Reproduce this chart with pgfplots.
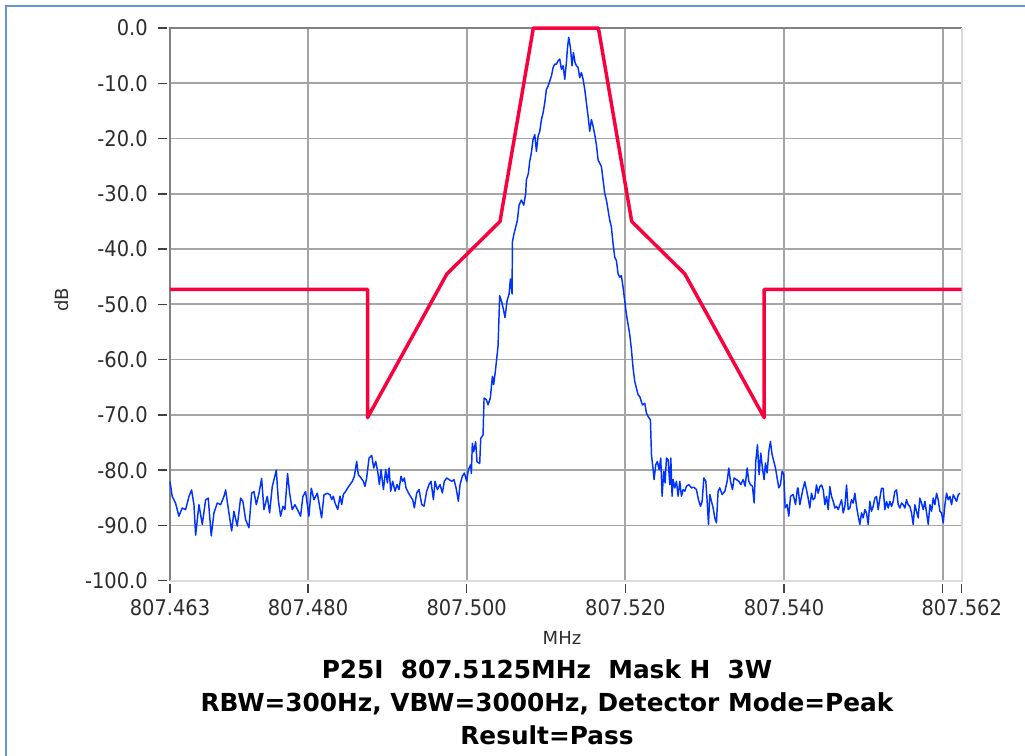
\documentclass[border=0pt]{standalone}
\usepackage{fontspec}
\setmainfont{DejaVu Sans Condensed}
\newfontfamily\widefont{DejaVu Sans}
\usepackage{pgfplots}
\pgfplotsset{compat=1.18}
\definecolor{maskred}{RGB}{250,0,60}
\definecolor{traceblue}{RGB}{0,51,255}
\definecolor{gridgray}{RGB}{165,165,165}
\definecolor{frameblue}{RGB}{100,150,215}
\definecolor{axdark}{RGB}{130,130,130}
\definecolor{axlight}{RGB}{218,218,218}
\definecolor{ticktext}{RGB}{45,45,45}
\begin{document}
\begin{tikzpicture}
\begin{scope}[x=0.75pt,y=-0.75pt,xshift=-127.5pt,yshift=435.525pt]
\useasboundingbox (0,0) rectangle (1025,756);
\draw[frameblue, line width=1.5pt] (6,756) -- (6,6) -- (1025,6);
\end{scope}
\begin{axis}[
  scale only axis, width=593.8pt, height=414.5pt,
  xmin=-37.4, xmax=62.4, ymin=-100, ymax=0,
  axis line style={draw=none},
  grid=major, major grid style={gridgray, line width=1.3pt},
  xtick={-20,0,20,40,60}, xticklabels={807.480,807.500,807.520,807.540,{}},
  extra x ticks={-37.4,62.4}, extra x tick labels={807.463,807.562},
  extra x tick style={grid=none},
  ytick={-90,-80,-70,-60,-50,-40,-30,-20,-10,0},
  yticklabels={-90.0,-80.0,-70.0,-60.0,-50.0,-40.0,-30.0,-20.0,-10.0,0.0},
  extra y ticks={-100}, extra y tick labels={-100.0},
  extra y tick style={grid=none},
  xtick pos=bottom, ytick pos=left,
  tick align=outside, major tick length=6.75pt,
  xtick style={black!75, line width=1.1pt, yshift=-2.25pt},
  ytick style={black!75, line width=1.1pt, xshift=-2.25pt},
  ticklabel style={font=\fontsize{16.2}{19}\selectfont, text=ticktext, inner sep=0pt},
  xticklabel shift=7.2pt, yticklabel shift=9.75pt,
  clip=false,
]
\draw[axdark, line width=1.6pt] (rel axis cs:0,0) -- (rel axis cs:0,1) -- (rel axis cs:1,1);
\draw[axlight, line width=1.6pt] (rel axis cs:0,0) -- (rel axis cs:1,0) -- (rel axis cs:1,1);
\addplot[traceblue, line width=1.1pt, line join=round] coordinates {
(-37.4,-82.08) (-37.12,-84.76) (-36.70,-85.95) (-36.28,-88.33) (-35.86,-86.85) (-35.43,-87.14) (-35.01,-84.76) (-34.68,-83.57) (-34.38,-86.25) (-34.17,-91.79) (-33.75,-86.25) (-33.33,-89.82) (-32.91,-85.36) (-32.58,-85.06) (-32.20,-91.90) (-31.86,-87.74) (-31.44,-85.95) (-31.02,-86.25) (-30.60,-84.76) (-30.39,-83.57) (-29.97,-87.74) (-29.63,-91.01) (-29.34,-87.44) (-28.92,-90.12) (-28.50,-85.06) (-28.21,-85.65) (-27.87,-88.93) (-27.45,-90.42) (-27.11,-84.17) (-26.82,-83.87) (-26.52,-86.25) (-26.18,-84.17) (-25.85,-81.49) (-25.56,-87.14) (-25.14,-84.76) (-24.84,-87.74) (-24.51,-82.98) (-24.25,-81.49) (-24.00,-80.00) (-23.75,-85.36) (-23.46,-88.33) (-23.16,-86.55) (-22.91,-87.14) (-22.58,-80.60) (-22.32,-84.17) (-21.99,-87.14) (-21.65,-86.25) (-21.23,-87.44) (-20.94,-88.33) (-20.65,-84.76) (-20.31,-83.87) (-19.89,-88.33) (-19.59,-83.27) (-19.25,-85.36) (-18.83,-84.17) (-18.54,-86.55) (-18.29,-88.63) (-17.99,-84.46) (-17.57,-84.17) (-17.23,-84.46)
(-17.02,-85.32) (-16.81,-84.71) (-16.60,-85.92) (-16.26,-87.12) (-15.97,-84.71) (-15.76,-86.22) (-15.55,-84.41) (-15.25,-83.81) (-15.00,-83.21) (-14.71,-82.61) (-14.41,-82.01) (-14.16,-81.11) (-13.87,-78.41) (-13.66,-80.81) (-13.32,-81.41) (-13.03,-82.01) (-12.82,-82.91) (-12.61,-81.41) (-12.31,-77.81) (-11.97,-77.33) (-11.72,-79.61) (-11.47,-78.41) (-11.22,-80.21) (-11.01,-82.61) (-10.80,-79.91) (-10.50,-83.51) (-10.21,-79.91) (-10.00,-82.31) (-9.79,-79.61) (-9.58,-83.81) (-9.33,-82.01) (-9.03,-83.81) (-8.78,-82.61) (-8.53,-83.51) (-8.28,-81.11) (-8.07,-82.01) (-7.86,-81.41) (-7.65,-83.21) (-7.35,-84.11) (-7.10,-84.71) (-6.81,-85.32) (-6.60,-86.82) (-6.30,-84.11) (-6.01,-83.51) (-5.67,-86.22) (-5.38,-86.52) (-5.04,-83.81) (-4.75,-82.61) (-4.50,-82.01) (-4.20,-85.32) (-3.99,-82.01) (-3.70,-83.51) (-3.36,-82.61) (-3.07,-84.11) (-2.82,-82.01) (-2.52,-81.41) (-2.23,-81.71) (-1.89,-82.01) (-1.60,-81.71) (-1.34,-83.21) (-1.05,-85.62) (-0.84,-82.61) (-0.55,-81.11) (-0.29,-80.51) (0.00,-82.01) (0.21,-79.91) (0.50,-79.01)
(0.59,-80.61) (0.71,-75.15) (0.88,-76.67) (1.13,-74.85) (1.30,-78.49) (1.64,-78.79) (1.77,-74.24) (2.06,-73.63) (2.19,-66.95) (2.48,-67.26) (2.69,-68.17) (2.98,-66.95) (3.24,-63.01) (3.40,-64.52) (3.66,-61.49) (3.95,-57.54) (4.16,-48.43) (4.37,-49.34) (4.58,-50.56) (4.83,-52.38) (5.09,-49.34) (5.34,-48.13) (5.51,-45.40) (5.72,-48.13) (5.76,-38.72) (5.97,-37.20) (6.18,-35.99) (6.39,-34.77) (6.60,-32.04) (6.89,-31.13) (7.19,-32.04) (7.44,-29.92) (7.52,-27.49) (7.78,-26.27) (7.94,-24.15) (8.15,-22.63) (8.36,-20.20) (8.58,-19.29) (8.79,-22.33) (9.00,-19.59) (9.21,-18.68) (9.42,-16.56) (9.63,-15.34) (9.84,-13.52) (10.05,-11.09) (10.26,-10.49) (10.47,-9.57) (10.68,-8.66) (10.89,-7.15) (11.10,-6.54) (11.31,-6.54) (11.52,-5.93) (11.73,-5.63) (11.94,-7.45) (12.15,-6.84) (12.36,-9.27) (12.57,-6.24) (12.69,-3.81) (12.86,-1.68) (13.07,-3.50) (13.28,-6.84) (13.45,-4.41) (13.66,-6.24) (13.83,-6.84) (14.04,-7.15) (14.25,-8.97) (14.46,-8.06) (14.67,-9.27) (14.88,-11.09) (15.09,-13.52) (15.30,-15.95) (15.51,-18.68) (15.72,-16.56) (15.93,-17.77) (16.14,-19.29) (16.35,-21.11) (16.56,-23.84) (16.77,-24.45) (16.98,-25.06) (17.19,-27.49) (17.40,-29.92) (17.61,-31.13) (17.82,-32.95) (18.03,-34.77) (18.24,-35.99) (18.45,-39.02) (18.66,-41.45) (18.87,-42.06) (19.08,-44.49) (19.29,-45.09) (19.50,-44.79) (19.71,-46.92) (19.92,-49.34) (20.13,-51.77) (20.34,-53.59) (20.55,-55.42) (20.76,-58.15) (20.97,-61.49) (21.18,-63.92) (21.39,-65.13) (21.60,-66.34)
(21.82,-66.70) (22.15,-68.20) (22.45,-67.90) (22.66,-69.70) (22.87,-70.30) (23.16,-70.90) (23.29,-77.21) (23.50,-79.91) (23.62,-81.71) (23.83,-79.01) (24.04,-78.41) (24.25,-79.91) (24.46,-77.81) (24.63,-84.71) (24.84,-80.21) (25.01,-82.31) (25.18,-77.81) (25.39,-78.11) (25.60,-82.61) (25.73,-77.81) (25.89,-84.71) (26.02,-81.71) (26.23,-83.21) (26.44,-82.01) (26.65,-84.71) (26.86,-82.01) (27.07,-84.71) (27.28,-83.51) (27.49,-83.81) (27.70,-82.91) (28.00,-82.61) (28.33,-83.21) (28.63,-83.09) (28.96,-83.51) (29.21,-85.32) (29.47,-86.52) (29.68,-85.62) (29.89,-81.41) (30.14,-82.01) (30.31,-85.62) (30.48,-89.82) (30.64,-84.41) (30.85,-85.62) (31.06,-86.82) (31.27,-88.62) (31.48,-89.52) (31.69,-83.81) (31.90,-83.21) (32.20,-84.41) (32.54,-83.81) (32.83,-82.01) (33.04,-79.61) (33.25,-82.01) (33.50,-83.51) (33.71,-81.41) (34.01,-81.71) (34.30,-82.01) (34.55,-82.61) (34.85,-81.71) (35.10,-82.91) (35.35,-79.61) (35.56,-82.01) (35.77,-82.61) (36.02,-82.91) (36.23,-85.92) (36.44,-78.41) (36.65,-75.41) (36.86,-80.81) (37.07,-76.91) (37.28,-79.61) (37.49,-81.71) (37.66,-78.71) (37.87,-80.51) (38.08,-76.61) (38.29,-74.80) (38.50,-77.21) (38.71,-78.41) (38.92,-79.61) (39.13,-81.41) (39.34,-83.21) (39.55,-82.61) (39.76,-80.21) (39.97,-80.81) (40.14,-86.82) (40.39,-86.22) (40.60,-88.32) (40.82,-84.71) (41.15,-84.41) (41.45,-86.22) (41.70,-83.21)
(41.78,-83.27) (41.99,-86.25) (42.20,-84.76) (42.41,-83.27) (42.62,-82.08) (42.83,-83.57) (43.04,-85.06) (43.25,-86.85) (43.46,-84.17) (43.67,-85.36) (43.88,-85.06) (44.09,-82.68) (44.30,-84.17) (44.51,-82.98) (44.73,-82.68) (44.94,-83.57) (45.15,-86.25) (45.36,-84.76) (45.57,-87.14) (45.78,-82.98) (45.99,-84.76) (46.20,-85.65) (46.41,-86.85) (46.62,-86.55) (46.83,-87.14) (47.04,-86.25) (47.25,-85.36) (47.46,-87.74) (47.67,-86.55) (47.88,-82.68) (48.09,-87.14) (48.30,-86.85) (48.51,-85.36) (48.72,-85.95) (48.93,-84.17) (49.14,-86.55) (49.35,-88.33) (49.56,-89.82) (49.77,-87.74) (49.98,-88.63) (50.19,-87.14) (50.40,-87.74) (50.61,-89.82) (50.82,-85.65) (51.03,-87.44) (51.24,-86.55) (51.45,-85.06) (51.66,-84.76) (51.87,-87.14) (52.08,-85.06) (52.29,-83.27) (52.50,-83.27) (52.71,-87.14) (52.92,-85.65) (53.13,-86.85) (53.34,-85.65) (53.55,-86.55) (53.76,-85.65) (53.97,-83.87) (54.18,-83.57) (54.39,-86.25) (54.60,-86.85) (54.81,-85.95) (55.02,-86.25) (55.23,-86.85) (55.44,-85.36) (55.65,-86.25) (55.86,-86.55) (56.07,-87.74) (56.28,-89.82) (56.49,-86.25) (56.70,-87.44) (56.91,-88.63) (57.12,-85.06) (57.33,-85.95) (57.55,-87.14) (57.76,-85.65) (57.97,-87.74) (58.18,-89.82) (58.39,-86.25) (58.60,-87.44) (58.81,-85.06) (59.02,-86.25) (59.23,-84.17) (59.44,-85.36) (59.65,-87.44) (59.86,-87.74) (60.07,-89.52) (60.28,-86.25) (60.49,-84.17) (60.70,-85.36) (60.91,-84.76) (61.12,-86.25) (61.33,-84.46) (61.54,-85.06) (61.75,-85.65) (61.96,-84.46) (62.17,-84.17)
};
\addplot[maskred, line width=2.6pt, line join=round] coordinates {
(-37.4,-47.3) (-12.5,-47.3) (-12.5,-70.5) (-2.5,-44.5) (4.2,-35) (8.4,0) (16.6,0) (20.8,-35) (27.5,-44.5) (37.5,-70.5) (37.5,-47.3) (62.4,-47.3)
};
\end{axis}
\begin{scope}[x=0.75pt,y=-0.75pt,xshift=-127.5pt,yshift=435.525pt]
\node[rotate=90, text=ticktext, font=\widefont\fontsize{13.5}{16}\selectfont] at (62,300) {dB};
\node[anchor=base, text=ticktext, font=\widefont\fontsize{13.5}{16}\selectfont] at (562,645) {MHz};
\node[anchor=base, font=\widefont\bfseries\fontsize{18.6}{22}\selectfont] at (547,678.3) {P25I\ \ 807.5125MHz\ \ Mask H\ \ 3W};
\node[anchor=base, font=\widefont\bfseries\fontsize{18.6}{22}\selectfont] at (547,711.7) {RBW=300Hz, VBW=3000Hz, Detector Mode=Peak};
\node[anchor=base, font=\widefont\bfseries\fontsize{18.6}{22}\selectfont] at (547,745) {Result=Pass};
\end{scope}
\end{tikzpicture}
\end{document}
